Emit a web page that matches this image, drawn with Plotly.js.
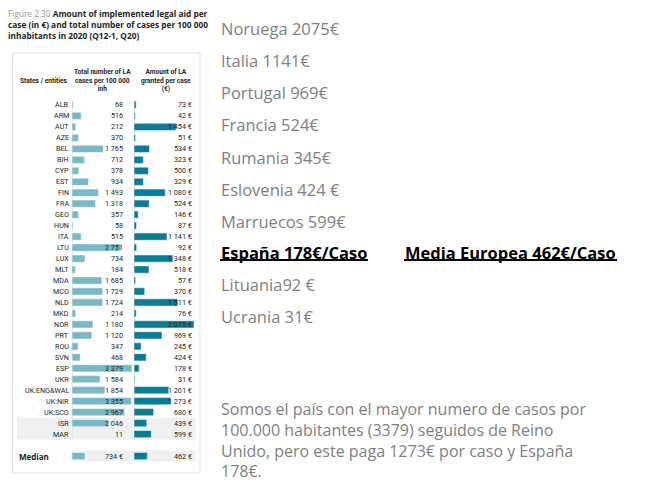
<!DOCTYPE html>
<html>
<head>
<meta charset="utf-8">
<script src="https://cdn.plot.ly/plotly-3.0.1.min.js"></script>
<style>html,body{margin:0;padding:0;background:#fff;}#chart{width:671px;height:484px;}</style>
</head>
<body>
<div id="chart"></div>
<script>
// ---- data ----
const countries = ["ALB","ARM","AUT","AZE","BEL","BIH","CYP","EST","FIN","FRA","GEO","HUN","ITA","LTU","LUX","MLT","MDA","MCO","NLD","MKD","NOR","PRT","ROU","SVN","ESP","UKR","UK:ENG&WAL","UK:NIR","UK:SCO","ISR","MAR"];
const cases = [68,516,212,370,1765,712,378,934,1493,1318,357,58,515,2751,734,184,1685,1729,1724,214,1180,1120,347,468,3379,1584,1854,3355,2967,2046,11];
const amount = [73,42,1454,51,534,323,500,329,1080,524,146,87,1141,92,1348,518,57,370,1511,76,2075,969,245,424,178,31,1201,1273,680,439,599];
const medianLabel = "Median";
const medianCases = 734;
const medianAmount = 462;
const sideNotes = ["Noruega 2075€","Italia 1141€","Portugal 969€","Francia 524€","Rumania 345€","Eslovenia 424 €","Marruecos 599€"];
const spainNote = "España 178€/Caso";
const euNote = "Media Europea 462€/Caso";
const sideNotes2 = ["Lituania92 €","Ucrania 31€"];
const paragraph = ["Somos el país con el mayor numero de casos por","100.000 habitantes (3379) seguidos de Reino","Unido, pero este paga 1273€ por caso y España","178€."];

// ---- helpers ----
const W = 671, H = 484;
const px = x => x / W;
const py = y => 1 - y / H;
const fmt = v => String(v).replace(/\B(?=(\d{3})+(?!\d))/g, " ");
const idx = countries.map((c, i) => i);
const medIdx = countries.length + 1;

const col1 = "#79b9c6", col2 = "#0a7c95", txt = "#262626";
const small = "Roboto, sans-serif";
const smallFont = {family: small, size: 7.2, color: txt};

const traces = [
  {type: "bar", orientation: "h", x: cases, y: idx, xaxis: "x", yaxis: "y",
   width: 0.66, marker: {color: col1, line: {color: "#ffffff", width: 0.5}}, hoverinfo: "skip"},
  {type: "bar", orientation: "h", x: amount, y: idx, xaxis: "x2", yaxis: "y",
   width: 0.66, marker: {color: col2, line: {color: "#ffffff", width: 0.5}}, hoverinfo: "skip"},
  {type: "bar", orientation: "h", x: [medianCases], y: [medIdx], xaxis: "x", yaxis: "y",
   width: 0.66, marker: {color: col1, line: {color: "#ffffff", width: 0.5}}, hoverinfo: "skip"},
  {type: "bar", orientation: "h", x: [medianAmount], y: [medIdx], xaxis: "x2", yaxis: "y",
   width: 0.66, marker: {color: col2, line: {color: "#ffffff", width: 0.5}}, hoverinfo: "skip"}
];

const annotations = [];
countries.forEach((c, i) => {
  annotations.push({xref: "paper", yref: "y", x: px(70.5), y: i, text: c, showarrow: false, xanchor: "right", yanchor: "middle", font: smallFont});
  annotations.push({xref: "paper", yref: "y", x: px(125), y: i, text: fmt(cases[i]), showarrow: false, xanchor: "right", yanchor: "middle", font: smallFont});
  annotations.push({xref: "paper", yref: "y", x: px(194), y: i, text: fmt(amount[i]) + " €", showarrow: false, xanchor: "right", yanchor: "middle", font: smallFont});
});
annotations.push({xref: "paper", yref: "y", x: px(17), y: medIdx, text: "<b>" + medianLabel + "</b>", showarrow: false, xanchor: "left", yanchor: "middle", font: {family: "Open Sans, sans-serif", size: 8, color: "#1a1a1a"}});
annotations.push({xref: "paper", yref: "y", x: px(125), y: medIdx, text: fmt(medianCases) + " €", showarrow: false, xanchor: "right", yanchor: "middle", font: smallFont});
annotations.push({xref: "paper", yref: "y", x: px(194), y: medIdx, text: fmt(medianAmount) + " €", showarrow: false, xanchor: "right", yanchor: "middle", font: smallFont});

// title
annotations.push({xref: "paper", yref: "paper", x: px(6), y: py(24), xanchor: "left", yanchor: "middle", align: "left", showarrow: false,
  text: '<span style="color:#9a9a9a;font-weight:normal">Figure 2.30</span> <b>Amount of implemented legal aid per</b><br><b>case (in €) and total number of cases per 100 000</b><br><b>inhabitants in 2020 (Q12-1, Q20)</b>',
  font: {family: "Open Sans, sans-serif", size: 8.3, color: "#262626"}});
// headers
const hdrFont = {family: small, size: 6.6, color: "#262626"};
annotations.push({xref: "paper", yref: "paper", x: px(18), y: py(81), xanchor: "left", yanchor: "middle", showarrow: false, text: "<b>States / entities</b>", font: hdrFont});
annotations.push({xref: "paper", yref: "paper", x: px(102), y: py(80), xanchor: "center", yanchor: "middle", showarrow: false, align: "center", text: "<b>Total number of LA<br>cases per 100 000<br>inh</b>", font: hdrFont});
annotations.push({xref: "paper", yref: "paper", x: px(166), y: py(80), xanchor: "center", yanchor: "middle", showarrow: false, align: "center", text: "<b>Amount of LA<br>granted per case<br>(€)</b>", font: hdrFont});

// right side notes
const noteFont = {family: "Open Sans, sans-serif", size: 16.5, color: "#7f7f7f"};
sideNotes.forEach((t, i) => {
  annotations.push({xref: "paper", yref: "paper", x: px(219), y: py(29 + 32 * i), xanchor: "left", yanchor: "middle", showarrow: false, text: t, font: noteFont});
});
const boldNote = {family: "Open Sans, sans-serif", size: 16.5, color: "#000"};
annotations.push({xref: "paper", yref: "paper", x: px(219), y: py(252), xanchor: "left", yanchor: "middle", showarrow: false, text: "<b>" + spainNote + "</b>", font: boldNote});
annotations.push({xref: "paper", yref: "paper", x: px(403), y: py(252), xanchor: "left", yanchor: "middle", showarrow: false, text: "<b>" + euNote + "</b>", font: boldNote});
sideNotes2.forEach((t, i) => {
  annotations.push({xref: "paper", yref: "paper", x: px(219), y: py(284 + 32 * i), xanchor: "left", yanchor: "middle", showarrow: false, text: t, font: noteFont});
});
annotations.push({xref: "paper", yref: "paper", x: px(219), y: py(440), xanchor: "left", yanchor: "middle", align: "left", showarrow: false,
  text: paragraph.join("<br>"), font: {family: "Open Sans, sans-serif", size: 16, color: "#7f7f7f"}});

const shapes = [
  // outer box
  {type: "rect", xref: "paper", yref: "paper", x0: px(12.5), x1: px(200), y0: py(473), y1: py(53), line: {color: "#e2e2e2", width: 1}, fillcolor: "rgba(0,0,0,0)", layer: "below"},
  // shaded ISR/MAR rows
  {type: "rect", xref: "paper", yref: "y", x0: px(17), x1: px(196), y0: countries.length - 2.5, y1: countries.length - 0.5, line: {width: 0}, fillcolor: "#f0f0f0", layer: "below"},
  // median row
  {type: "rect", xref: "paper", yref: "y", x0: px(71), x1: px(196), y0: medIdx - 0.5, y1: medIdx + 0.5, line: {width: 0}, fillcolor: "#f0f0f0", layer: "below"},
  // vertical baselines
  {type: "line", xref: "x", yref: "y", x0: 0, x1: 0, y0: -0.5, y1: countries.length - 0.5, line: {color: "#d4d4d4", width: 1}, layer: "below"},
  {type: "line", xref: "x2", yref: "y", x0: 0, x1: 0, y0: -0.5, y1: countries.length - 0.5, line: {color: "#d4d4d4", width: 1}, layer: "below"},
  {type: "line", xref: "x", yref: "y", x0: 0, x1: 0, y0: medIdx - 0.5, y1: medIdx + 0.5, line: {color: "#d4d4d4", width: 1}, layer: "below"},
  {type: "line", xref: "x2", yref: "y", x0: 0, x1: 0, y0: medIdx - 0.5, y1: medIdx + 0.5, line: {color: "#d4d4d4", width: 1}, layer: "below"},
  // underlines
  {type: "line", xref: "paper", yref: "paper", x0: px(220), x1: px(368), y0: py(260), y1: py(260), line: {color: "#000", width: 2}},
  {type: "line", xref: "paper", yref: "paper", x0: px(404), x1: px(617), y0: py(260), y1: py(260), line: {color: "#000", width: 2}}
];

const hidden = {showgrid: false, zeroline: false, showticklabels: false, ticks: "", showline: false, fixedrange: true};
const layout = {
  width: W, height: H,
  margin: {l: 0, r: 0, t: 0, b: 0},
  paper_bgcolor: "#ffffff", plot_bgcolor: "rgba(0,0,0,0)",
  showlegend: false,
  barmode: "overlay",
  xaxis: Object.assign({domain: [px(72), px(132)], range: [0, 3379], anchor: "y"}, hidden),
  xaxis2: Object.assign({domain: [px(134), px(194)], range: [0, 2075], anchor: "y"}, hidden),
  yaxis: Object.assign({domain: [py(461.5), py(99.5)], range: [medIdx + 0.5, -0.5], anchor: "x"}, hidden),
  annotations: annotations,
  shapes: shapes
};

Plotly.newPlot("chart", traces, layout, {staticPlot: true, displayModeBar: false});
</script>
</body>
</html>
